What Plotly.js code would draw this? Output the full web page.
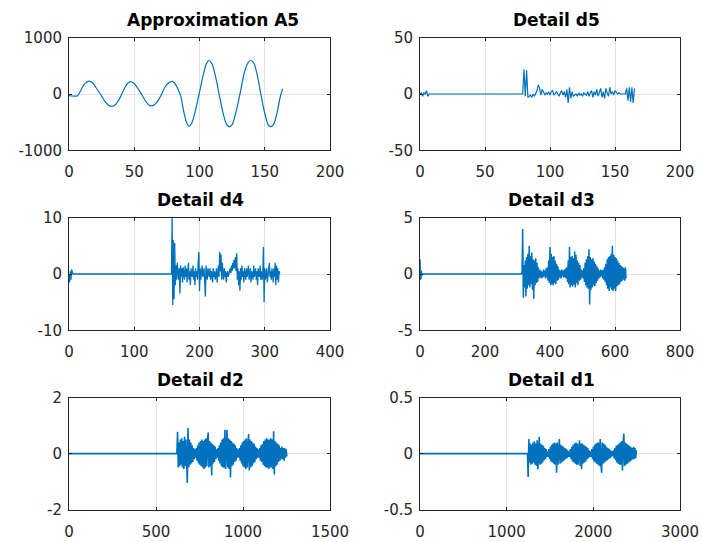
<!DOCTYPE html>
<html><head><meta charset="utf-8">
<script src="https://cdn.plot.ly/plotly-3.0.1.min.js"></script>
<style>html,body{margin:0;padding:0;background:#fff}#chart{width:702px;height:542px}</style>
</head><body><div id="chart"></div>
<script>
// ---------- titles ----------
const titles = ["Approximation A5", "Detail d5", "Detail d4", "Detail d3", "Detail d2", "Detail d1"];

// ---------- Approximation A5 (sample index, value) ----------
const a5X = [0,6.5,8.5,11,13.5,15.6,18,20.5,24,27.5,30,32.7,35.5,38,40.5,43,45,47.3,49.5,52.5,55.5,58.5,61,63.3,65.5,68.5,71,73.5,76.5,79,81,83,85.5,88,90,92,94,96.5,99.7,103,105.3,107.3,109.5,112,115,118.5,121,123,125,127.5,131,134.5,137.5,139.5,141.5,144,147,150.5,153,155,157,159.5,162,163.7];
const a5Y = [-30,-30,40,150,210,230,200,120,0,-130,-195,-220,-190,-110,0,120,190,220,195,110,0,-120,-190,-210,-190,-110,0,120,200,225,190,110,-30,-320,-500,-575,-520,-330,0,350,540,595,540,340,0,-380,-550,-585,-545,-360,0,390,565,595,555,360,0,-390,-560,-580,-530,-330,-40,90];

// ---------- Detail d5 ----------
const d5Head = [0,1,-2,1,0,3,-2,0,0];          // samples 0..8
const d5Start = 78, d5Step = 1;
const d5Noise = [0,0,22,-2,21,-3,-2,-1,-3,0,-2,1,3,8,5,-1,4,2,-1,1,0,2,-1,2,3,-1,1,2,0,-2,1,3,-1,2,-3,4,-8,6,-4,2,-2,-1,0,-2,1,-1,0,-2,1,0,-1,2,-2,1,3,-3,2,-1,4,-2,1,5,-3,2,-4,5,1,-2,6,0,2,-1,3,1,0,1,0,0,0,0,0,5,-6,6,-7,6,-8,5];

// ---------- Detail d4 ----------
const d4Head = [0,-1.5,0.5,-1,0.8,0.5,0];
const d4Start = 157, d4Step = 1;
const d4Noise = [0,10,-5.5,6,-4.5,5.5,-2,1.5,-1,2,0.5,-1,1,-3.5,1.5,-0.5,1,-1.5,1.2,0,-1,1.5,-0.5,1,-1.5,0.5,2,-1,0.5,-2,1,0,-0.5,1.5,-1,0.5,-2,1,-0.5,0.5,-1,2,3.9,-3,1,-1,0.5,1.5,-0.5,0,1,-1.5,-4,1.5,0,-1,1,0.5,-0.5,1,-1,0.5,0,-1.5,1,-0.5,0.5,-1,0,1,-1.5,0.5,1.5,-0.5,3.9,0.5,3.5,-1,2,0,-1,1,-0.5,0.5,-1.5,0,0.5,-0.5,0,0.5,1,0.2,1.5,0.5,2,1,2.5,1,3,0.5,3.7,-1,1,-2,0.5,-3,1,-1,1.5,-0.5,0.5,-1.5,1,0,-1,1,-0.5,0.5,1.5,-1,0,1,-1.5,0.5,0,-1,1.5,-0.5,0,1,-1,0.5,-2,1,0,-0.5,1.5,-1,0.5,-1,0,4.8,-5,1,-1,0.5,1,-1.5,0,1,2,-0.5,0.5,-1,1,0,-1.5,1,-0.5,2,-2,1.5,-1,1,-1.5,0.5,0];

// ---------- Detail d3 ----------
const d3Head = [1.3,-0.5,0.5,-0.4,0.3,-0.2,0];
const d3Start = 312, d3Step = 2;
const d3Noise = [0,0.2,4.0,-2.1,0.8,-1.2,1.2,-2.0,1.5,-1.3,1.8,-1.0,2.5,-1.2,1.6,-0.9,1.9,-1.4,1.3,-2.2,1.2,-1.0,1.4,-0.8,1.0,-0.7,0.6,-0.4,0.4,-0.3,0.3,-0.4,0.2,-0.3,0.4,-0.2,0.3,-0.4,0.5,-0.3,0.6,-0.6,1.2,-0.8,2.4,-1.0,1.8,-0.9,1.5,-1.0,1.6,-0.8,1.2,-0.9,0.9,-0.6,0.7,-0.5,0.4,-0.3,0.3,-0.4,0.4,-0.2,0.3,-0.3,0.4,-0.3,0.5,-0.4,0.6,-0.7,1.2,-0.9,2.4,-1.2,1.5,-1.0,1.6,-1.1,1.4,-0.9,2.0,-1.2,1.7,-0.8,1.2,-1.0,1.0,-0.6,0.8,-0.5,0.4,-0.3,0.3,-0.4,0.5,-0.7,1.0,-1.0,1.3,-1.2,1.6,-1.3,2.2,-2.7,1.5,-1.4,1.3,-1.2,1.4,-1.0,1.1,-1.1,0.9,-0.8,0.7,-0.6,0.5,-0.4,0.3,-0.3,0.4,-0.2,0.3,-0.4,0.4,-0.5,0.6,-0.7,0.9,-1.0,1.3,-1.3,1.5,-1.5,1.6,-1.2,1.8,-1.4,2.5,-1.5,1.7,-1.3,1.5,-1.5,1.4,-1.1,1.2,-1.0,1.0,-0.9,0.8,-0.7,0.7,-0.6,0.6,-0.5,0.5,-0.6,0.6,-0.4];

// ---------- Detail d2 ----------
const d2Head = [0];
const d2Start = 620, d2Step = 4;
const d2Noise = [0,0.78,-0.5,0.4,-0.45,0.5,-0.4,0.55,-0.5,0.45,-0.55,0.6,-0.45,0.5,-0.6,-1.05,0.92,-0.5,0.5,-0.4,0.4,-0.35,0.3,-0.3,0.2,-0.2,0.15,-0.15,0.2,-0.25,0.3,-0.35,0.4,-0.4,0.45,-0.45,0.5,-0.5,0.45,-0.55,0.5,-0.5,0.55,-0.45,0.5,0.75,-0.5,0.45,-0.45,0.4,-0.78,0.35,-0.35,0.3,-0.3,0.25,-0.2,0.15,-0.15,0.2,-0.25,0.3,-0.35,0.4,-0.45,0.5,-0.5,0.55,-0.5,0.85,-0.55,0.5,0.85,-0.5,0.55,-0.55,0.5,-0.85,0.45,-0.45,0.4,-0.4,0.35,-0.3,0.3,-0.25,0.2,-0.15,0.15,-0.15,0.2,-0.25,0.3,-0.35,0.4,-0.45,0.45,-0.5,0.5,-0.55,0.55,-0.5,0.5,0.7,-0.6,0.5,-0.5,0.45,-0.45,0.4,-0.35,0.35,-0.3,0.25,-0.2,0.2,-0.15,0.15,-0.15,0.2,-0.25,0.3,-0.3,0.35,-0.4,0.45,-0.45,0.5,-0.5,0.55,-0.5,0.5,-0.55,0.5,-0.5,0.55,-0.5,0.5,-0.55,0.8,-0.75,0.45,-0.45,0.4,-0.4,0.35,-0.3,0.3,-0.25,0.2,-0.2,0.25,-0.2,0.2,-0.25,0.2,-0.15,0.15,-0.1];

// ---------- Detail d1 ----------
const d1Head = [0];
const d1Start = 1240, d1Step = 8;
const d1Noise = [0,-0.21,0.13,-0.08,0.09,-0.1,0.08,-0.09,0.1,-0.08,0.11,-0.1,0.09,-0.11,0.12,-0.14,0.1,0.15,-0.1,0.09,-0.09,0.08,-0.08,0.07,-0.06,0.05,-0.05,0.04,-0.03,0.02,-0.03,0.04,-0.05,0.06,-0.07,0.08,-0.08,0.09,-0.09,0.1,-0.1,0.09,-0.17,0.1,-0.1,0.09,0.13,-0.09,0.08,-0.08,0.07,-0.07,0.06,-0.06,0.05,-0.05,0.04,-0.04,0.03,-0.03,0.02,-0.03,0.04,-0.05,0.06,-0.07,0.08,-0.08,0.09,-0.09,0.1,-0.1,0.09,-0.1,0.1,0.12,-0.11,0.09,-0.14,0.09,-0.09,0.08,-0.08,0.07,-0.07,0.06,-0.05,0.05,-0.04,0.03,-0.03,0.02,-0.03,0.04,-0.05,0.06,-0.07,0.08,-0.08,0.09,-0.09,0.1,-0.1,0.1,-0.11,0.13,-0.1,-0.17,0.1,-0.09,0.09,-0.08,0.08,-0.07,0.06,-0.06,0.05,-0.05,0.04,-0.04,0.03,-0.03,0.02,-0.02,0.03,-0.04,0.05,-0.06,0.07,-0.08,0.08,-0.09,0.09,-0.1,0.1,-0.1,0.11,-0.15,0.1,0.18,-0.11,0.1,-0.1,0.09,-0.09,0.08,-0.08,0.07,-0.07,0.06,-0.06,0.05,-0.05,0.06,-0.05,0.05,-0.04,0.03];

// ---------- axis ranges and tick labels ----------
const xRanges = [[0,200],[0,200],[0,400],[0,800],[0,1500],[0,3000]];
const xTickVals = [[0,50,100,150,200],[0,50,100,150,200],[0,100,200,300,400],[0,200,400,600,800],[0,500,1000,1500],[0,1000,2000,3000]];
const xTickText = [["0","50","100","150","200"],["0","50","100","150","200"],["0","100","200","300","400"],["0","200","400","600","800"],["0","500","1000","1500"],["0","1000","2000","3000"]];
const yRanges = [[-1000,1000],[-50,50],[-10,10],[-5,5],[-2,2],[-0.5,0.5]];
const yTickVals = [[-1000,0,1000],[-50,0,50],[-10,0,10],[-5,0,5],[-2,0,2],[-0.5,0,0.5]];
const yTickText = [["-1000","0","1000"],["-50","0","50"],["-10","0","10"],["-5","0","5"],["-2","0","2"],["-0.5","0","0.5"]];

function build(head, start, step, noise) {
  const x = head.map((_, i) => i);
  const y = head.slice();
  noise.forEach((v, i) => { x.push(start + i * step); y.push(v); });
  return {x, y};
}
const series = [
  {x: a5X, y: a5Y, spline: true},
  build(d5Head, d5Start, d5Step, d5Noise),
  build(d4Head, d4Start, d4Step, d4Noise),
  build(d3Head, d3Start, d3Step, d3Noise),
  build(d2Head, d2Start, d2Step, d2Noise),
  build(d1Head, d1Start, d1Step, d1Noise)
];
const lineWidths = [1.2, 1.2, 1.3, 1.5, 1.6, 1.6];

const W = 702, H = 542;
const colPx = [[69, 330], [420, 680]];
const rowPx = [[37.7, 150.3], [217.7, 330.3], [397.7, 509.5]];
const titleCx = [213, 556, 200, 551, 200, 551];
const titleCy = [20, 200, 380];

const traces = [], layout = {
  width: W, height: H, margin: {l:0, r:0, t:0, b:0},
  paper_bgcolor: '#fff', plot_bgcolor: '#fff', showlegend: false,
  annotations: []
};
const lineCol = '#262626';
series.forEach((s, k) => {
  const n = k + 1, suf = n === 1 ? '' : String(n);
  traces.push({
    type: 'scatter', mode: 'lines', x: s.x, y: s.y,
    xaxis: 'x' + suf, yaxis: 'y' + suf,
    line: {color: '#0072BD', width: lineWidths[k], shape: s.spline ? 'spline' : 'linear'},
    hoverinfo: 'skip'
  });
  const col = k % 2, row = Math.floor(k / 2);
  const common = {
    showline: true, mirror: 'ticks', linecolor: lineCol, linewidth: 1,
    ticks: 'inside', ticklen: 3, tickcolor: lineCol, tickwidth: 1,
    showgrid: true, gridcolor: '#e3e3e3', gridwidth: 1, zeroline: false,
    tickfont: {family: 'DejaVu Sans', size: 15, color: lineCol},
    tickmode: 'array', fixedrange: true
  };
  layout['xaxis' + suf] = Object.assign({}, common, {
    domain: [colPx[col][0] / W, colPx[col][1] / W],
    anchor: 'y' + suf, range: xRanges[k],
    tickvals: xTickVals[k], ticktext: xTickText[k], ticklabelstandoff: 8
  });
  layout['yaxis' + suf] = Object.assign({}, common, {
    domain: [1 - rowPx[row][1] / H, 1 - rowPx[row][0] / H],
    anchor: 'x' + suf, range: yRanges[k],
    tickvals: yTickVals[k], ticktext: yTickText[k], ticklabelstandoff: 3
  });
  layout.annotations.push({
    text: '<b>' + titles[k] + '</b>', xref: 'paper', yref: 'paper',
    x: titleCx[k] / W, y: 1 - titleCy[row] / H, xanchor: 'center', yanchor: 'middle',
    showarrow: false, font: {family: 'DejaVu Sans', size: 17, color: '#000'}
  });
});

Plotly.newPlot('chart', traces, layout, {staticPlot: true, displayModeBar: false});
</script>
</body></html>
